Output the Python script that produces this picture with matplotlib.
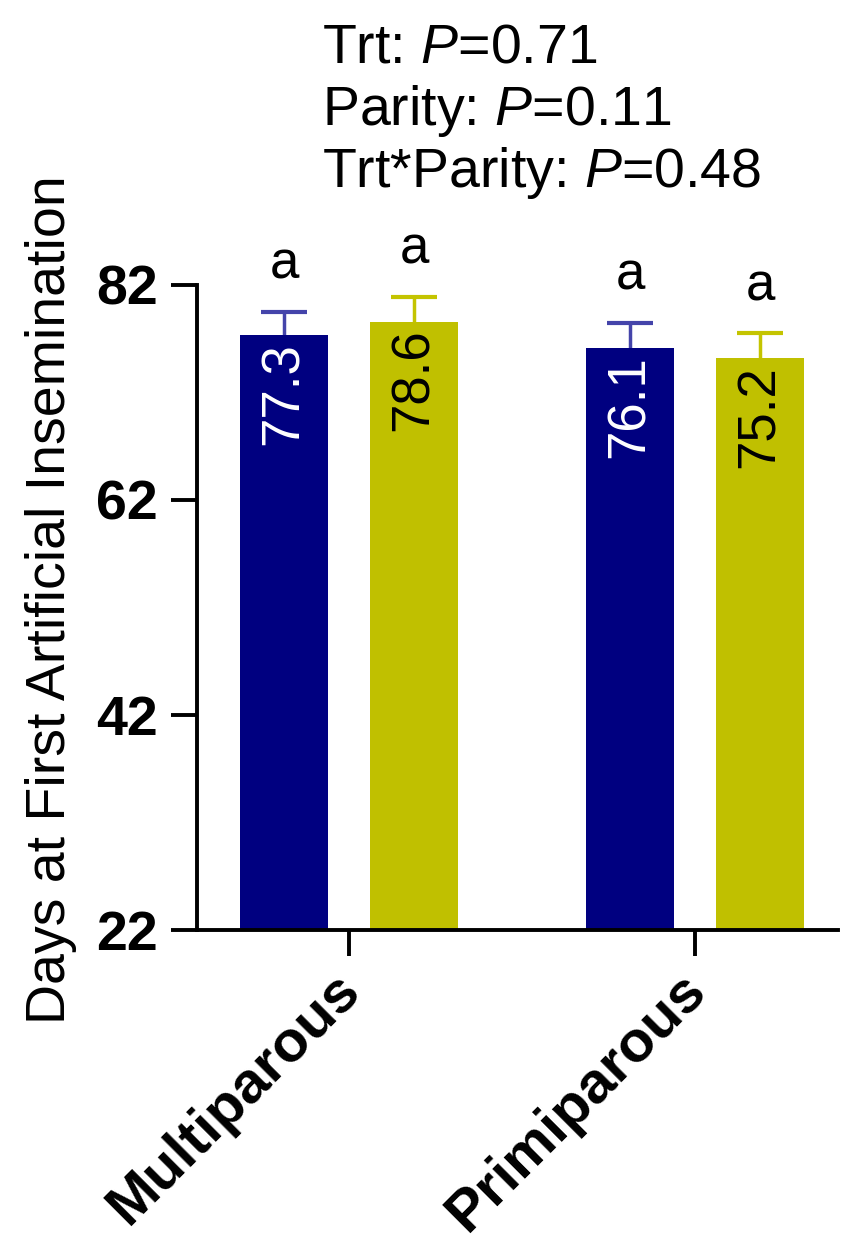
import matplotlib
matplotlib.use('Agg')
import matplotlib.pyplot as plt
import numpy as np

# ============================================================
# DATA
# ============================================================
groups = ['Multiparous', 'Primiparous']
trt_names = ['Control', 'Treatment']
means = [[77.3, 76.1],    # navy
         [78.6, 75.2]]    # yellow
sems = [[2.2, 2.4],
        [2.3, 2.3]]
letters = [['a', 'a'], ['a', 'a']]
bar_colors = ['#000080', '#c0c000']
err_colors = ['#4444aa', '#c4c400']
label_colors = ['white', 'black']
stats_lines = ['Trt: $\\mathit{P}$=0.71', 'Parity: $\\mathit{P}$=0.11',
               'Trt*Parity: $\\mathit{P}$=0.48']
yticks = [22, 42, 62, 82]

plt.rcParams['font.family'] = ['Liberation Sans', 'DejaVu Sans']
plt.rcParams['mathtext.fontset'] = 'custom'
plt.rcParams['mathtext.it'] = 'Liberation Sans:italic'
plt.rcParams['mathtext.rm'] = 'Liberation Sans'

fig = plt.figure(figsize=(8.42, 12.46), dpi=100)
ax = fig.add_axes([0.234, 0.2536, 0.761, 0.5177])

x = np.arange(len(groups))
width = 0.254
offsets = [-0.188, 0.188]
cap_half = 0.066

for i in range(2):
    xs = x + offsets[i]
    m = np.array(means[i])
    tops = m + np.array(sems[i])
    ax.bar(xs, m, width=width, bottom=0, color=bar_colors[i], zorder=2)
    # upper error bar only
    ax.vlines(xs, m, tops, color=err_colors[i], lw=2.5, zorder=1)
    ax.hlines(tops, xs - cap_half, xs + cap_half, color=err_colors[i], lw=3, zorder=1)
    for j in range(2):
        ax.annotate(letters[i][j], (xs[j], tops[j]), xytext=(0, 16),
                    textcoords='offset points', ha='center', va='bottom',
                    fontsize=38, color='black', annotation_clip=False)
        ax.annotate(f'{means[i][j]:.1f}', (xs[j], means[i][j]), xytext=(0, -5),
                    textcoords='offset points', ha='center', va='top',
                    rotation=90, fontsize=38, color=label_colors[i])

ax.set_xlim(-0.44, 1.413)
ax.set_ylim(22, 82)
ax.set_yticks(yticks)
ax.set_yticklabels([str(t) for t in yticks], fontsize=40, fontweight='bold')
ax.set_xticks(x)
ax.tick_params(axis='x', labelbottom=False)
# group names, rotated 45 deg, end of text near the tick
for j, g in enumerate(groups):
    ax.annotate(g, (x[j], 0), xycoords=ax.get_xaxis_transform(),
                xytext=(9, -45), textcoords='offset points',
                rotation=45, ha='right', va='baseline', rotation_mode='anchor',
                fontsize=42, fontweight='bold', annotation_clip=False)
ax.tick_params(axis='y', length=19, width=2.8, pad=9)
ax.tick_params(axis='x', length=19, width=2.8)
for s in ['top', 'right']:
    ax.spines[s].set_visible(False)
for s in ['left', 'bottom']:
    ax.spines[s].set_linewidth(2.8)

ax.set_ylabel('Days at First Artificial Insemination', fontsize=40)
ax.yaxis.set_label_coords(-0.187, 0.512)

for k, line in enumerate(stats_lines):
    fig.text(0.382, 0.961 - k * 0.0500, line, fontsize=40, ha='left', va='center')

fig.savefig('out.png', dpi=100)
